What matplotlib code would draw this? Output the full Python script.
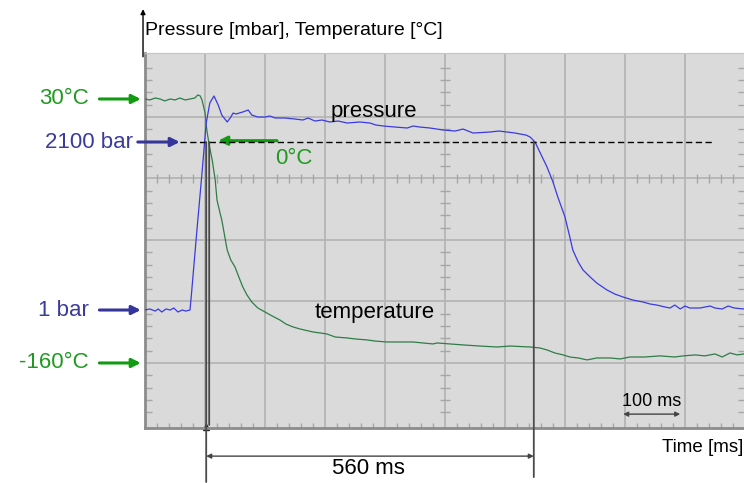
import numpy as np
import matplotlib
matplotlib.use('Agg')
import matplotlib.pyplot as plt

plt.rcParams['font.family'] = ['Liberation Sans', 'DejaVu Sans']

# pressure trace [bar] over time [ms]
time_p = [0, 8, 17, 22, 28, 35, 42, 48, 55, 62, 68, 75, 77, 87, 95, 102, 108, 115,
          122, 128, 137, 142, 147, 152, 157, 163, 172, 178, 188, 200, 208, 217, 233,
          250, 263, 272, 283, 295, 308, 322, 337, 358, 375, 385, 397, 417, 437, 447, 458,
          475, 497, 517, 530, 547, 575, 590, 603, 617, 625, 635, 642, 650, 662, 670, 680,
          688, 700, 708, 713, 722, 730, 742, 753, 770, 783, 797, 813, 830, 842, 853, 867,
          875, 883, 892, 900, 908, 925, 942, 950, 962, 972, 982, 998]
pressure = [1, 14, -12, 14, -24, 14, 1, 26, -24, 1, -12, 1, 163, 1038, 1713, 2337, 2587, 2675,
            2562, 2437, 2350, 2400, 2462, 2450, 2462, 2475, 2500, 2437, 2412, 2412, 2425, 2400,
            2400, 2387, 2375, 2400, 2362, 2375, 2350, 2362, 2337, 2350, 2337, 2312, 2300, 2287,
            2275, 2300, 2287, 2275, 2250, 2237, 2262, 2212, 2225, 2237, 2225, 2212, 2200, 2187,
            2162, 2100, 1913, 1788, 1600, 1413, 1163, 913, 751, 601, 501, 413, 338, 251, 201,
            163, 126, 101, 76, 63, 38, 26, 63, 14, 51, 26, 26, 51, 26, 14, 51, 26, 14]

# temperature trace [degC] over time [ms]
time_t = [0, 8, 17, 25, 33, 42, 50, 58, 67, 75, 83, 88, 92, 95, 100, 103, 107, 112, 117, 120,
          125, 128, 137, 143, 150, 157, 163, 170, 178, 188, 200, 212, 225, 235, 247, 258, 280,
          292, 303, 317, 337, 350, 370, 383, 403, 425, 447, 463, 480, 487, 508, 530, 558, 587,
          608, 642, 658, 670, 683, 697, 708, 722, 737, 753, 775, 792, 808, 833, 858, 883, 897,
          917, 933, 950, 962, 975, 987, 998]
temperature = [30.0, 29.3, 30.7, 30.0, 28.6, 30.0, 29.3, 30.7, 29.3, 30.0, 30.7, 32.9, 32.2, 29.3,
               20.1, 7.7, -3.1, -13.9, -28.3, -42.7, -52.0, -57.1, -78.7, -85.9, -90.9, -98.8,
               -105.3, -111.1, -116.1, -120.4, -123.3, -126.2, -129.1, -132.0, -134.1, -135.5,
               -137.7, -138.4, -139.1, -141.3, -142.0, -142.7, -143.4, -144.2, -144.9, -144.9,
               -144.9, -145.6, -146.3, -145.6, -146.3, -147.0, -147.8, -148.5, -147.8, -148.5,
               -149.2, -150.6, -152.8, -154.2, -155.7, -156.4, -157.8, -156.4, -156.4, -157.1,
               -155.7, -155.7, -154.9, -155.7, -154.9, -154.2, -154.9, -153.5, -155.7, -152.8,
               -154.2, -153.5]

t_start, t_lag, t_end = 102, 107, 648
p_high, p_low = 2100, 1
temp_high, temp_zero, temp_low = 30, 0, -160

blue = '#3a3ae0'
green = '#2e7d46'
label_green = '#1f9a1f'
label_blue = '#3b3b9e'
gridc = '#b5b5b5'

fig = plt.figure(figsize=(7.44, 4.83), dpi=100)
ax = fig.add_axes([145 / 744, 55 / 483, 600 / 744, 375 / 483])
ax.set_facecolor('#dadada')
ax.set_xlim(0, 1000)
ax.set_ylim(-0.057, 6.04)
ax.set_xticks([])
ax.set_yticks([])
for s in ['left', 'bottom']:
    ax.spines[s].set_color('#8c8c8c')
    ax.spines[s].set_linewidth(2)
ax.spines['top'].set_color('#c4c4c4')
ax.spines['right'].set_visible(False)

# oscilloscope grid
for x in range(100, 1000, 100):
    ax.axvline(x, color=gridc, lw=1.3, zorder=0.5)
for y in range(1, 6):
    ax.axhline(y, color=gridc, lw=1.3, zorder=0.5)
minor_x = [x for x in range(20, 1000, 20) if x % 100 != 0]
minor_y = [y for y in np.arange(0.2, 6.0, 0.2) if abs(y - round(y)) > 0.01]
tc = '#a6a6a6'
ax.vlines(minor_x, 4 - 0.08, 4 + 0.08, color=tc, lw=1)
ax.vlines(minor_x, -0.057, 0.03, color=tc, lw=1)
ax.hlines(minor_y, 500 - 8, 500 + 8, color=tc, lw=1)
ax.hlines(minor_y, 0, 11, color=tc, lw=1)
ax.hlines(minor_y, 988, 1000, color=tc, lw=1)

axT = ax.twinx()
axT.set_ylim(-206.8, 63.1)
axP = ax.twinx()
axP.set_ylim(-1473, 3212)
for a in (axT, axP):
    a.set_yticks([])
    for s in a.spines.values():
        s.set_visible(False)

axP.plot(time_p, pressure, color=blue, lw=0.9)
axT.plot(time_t, temperature, color=green, lw=0.9)

# reference level for 2100 bar / 0 degC
axP.plot([58, 947], [p_high, p_high], color='k', lw=1, dashes=(4.5, 2.5))

# marker lines
line_kw = dict(arrowstyle='-', lw=1.3, color='#4a4a4a', shrinkA=0, shrinkB=0)
for t, yb in [(t_start, -0.144), (t_lag, 0.008), (t_end, -0.131)]:
    axP.annotate('', xy=(t, p_high), xycoords='data', xytext=(t, yb),
                 textcoords=('data', 'axes fraction'), arrowprops=line_kw,
                 annotation_clip=False)
ax.plot([t_start], [-0.045], marker='^', color='#222222', ms=5, clip_on=False)

dim_kw = dict(arrowstyle='<|-|>', lw=1, color='#444444', mutation_scale=7,
              shrinkA=0, shrinkB=0)
ax.annotate('', xy=(t_start, -0.075), xytext=(t_end, -0.075),
            xycoords=('data', 'axes fraction'), arrowprops=dim_kw, annotation_clip=False)
ax.text(372, -0.109, '560 ms', transform=ax.get_xaxis_transform(), ha='center',
        va='center', fontsize=16)

ax.annotate('', xy=(797, 0.037), xytext=(892, 0.037),
            xycoords=('data', 'axes fraction'), arrowprops=dim_kw)
ax.text(845, 0.072, '100 ms', transform=ax.get_xaxis_transform(), ha='center',
        va='center', fontsize=13)

ax.text(862, -0.051, 'Time [ms]', transform=ax.get_xaxis_transform(), ha='left',
        va='center', fontsize=13.5)
ax.text(0.0, 1.061, 'Pressure [mbar], Temperature [°C]', transform=ax.transAxes,
        ha='left', va='center', fontsize=14)
ax.annotate('', xy=(-0.0033, 1.117), xytext=(-0.0033, 0.99), xycoords='axes fraction',
            arrowprops=dict(arrowstyle='-|>', color='k', lw=1, mutation_scale=7,
                            shrinkA=0, shrinkB=0), annotation_clip=False)

axP.text(382, 2480, 'pressure', ha='center', va='center', fontsize=16)
axP.text(382, -35, 'temperature', ha='center', va='center', fontsize=16)

# level arrows on the left
arr_g = dict(arrowstyle='-|>', lw=2.2, color='#139a13', mutation_scale=13,
             shrinkA=0, shrinkB=0)
arr_b = dict(arrowstyle='-|>', lw=2.2, color='#35359c', mutation_scale=13,
             shrinkA=0, shrinkB=0)
lc = ('axes fraction', 'data')
for a, val, text, arr, col in [(axT, temp_high, '30°C', arr_g, label_green),
                               (axP, p_low, '1 bar', arr_b, label_blue),
                               (axT, temp_low, '-160°C', arr_g, label_green)]:
    a.annotate('', xy=(-0.007, val), xytext=(-0.076, val), xycoords=lc, textcoords=lc,
               arrowprops=arr, annotation_clip=False)
    a.text(-0.094, val, text, transform=a.get_yaxis_transform(), ha='right',
           va='center', fontsize=16, color=col)

axP.annotate('', xy=(0.058, p_high), xytext=(-0.012, p_high), xycoords=lc, textcoords=lc,
             arrowprops=arr_b, annotation_clip=False)
axP.text(-0.02, p_high, '2100 bar', transform=axP.get_yaxis_transform(), ha='right',
         va='center', fontsize=16, color=label_blue)
axT.annotate('', xy=(122, temp_zero), xytext=(220, temp_zero), arrowprops=arr_g)
axT.text(217, -13, '0°C', ha='left', va='center', fontsize=16, color=label_green)

fig.savefig('out.png', dpi=100)
